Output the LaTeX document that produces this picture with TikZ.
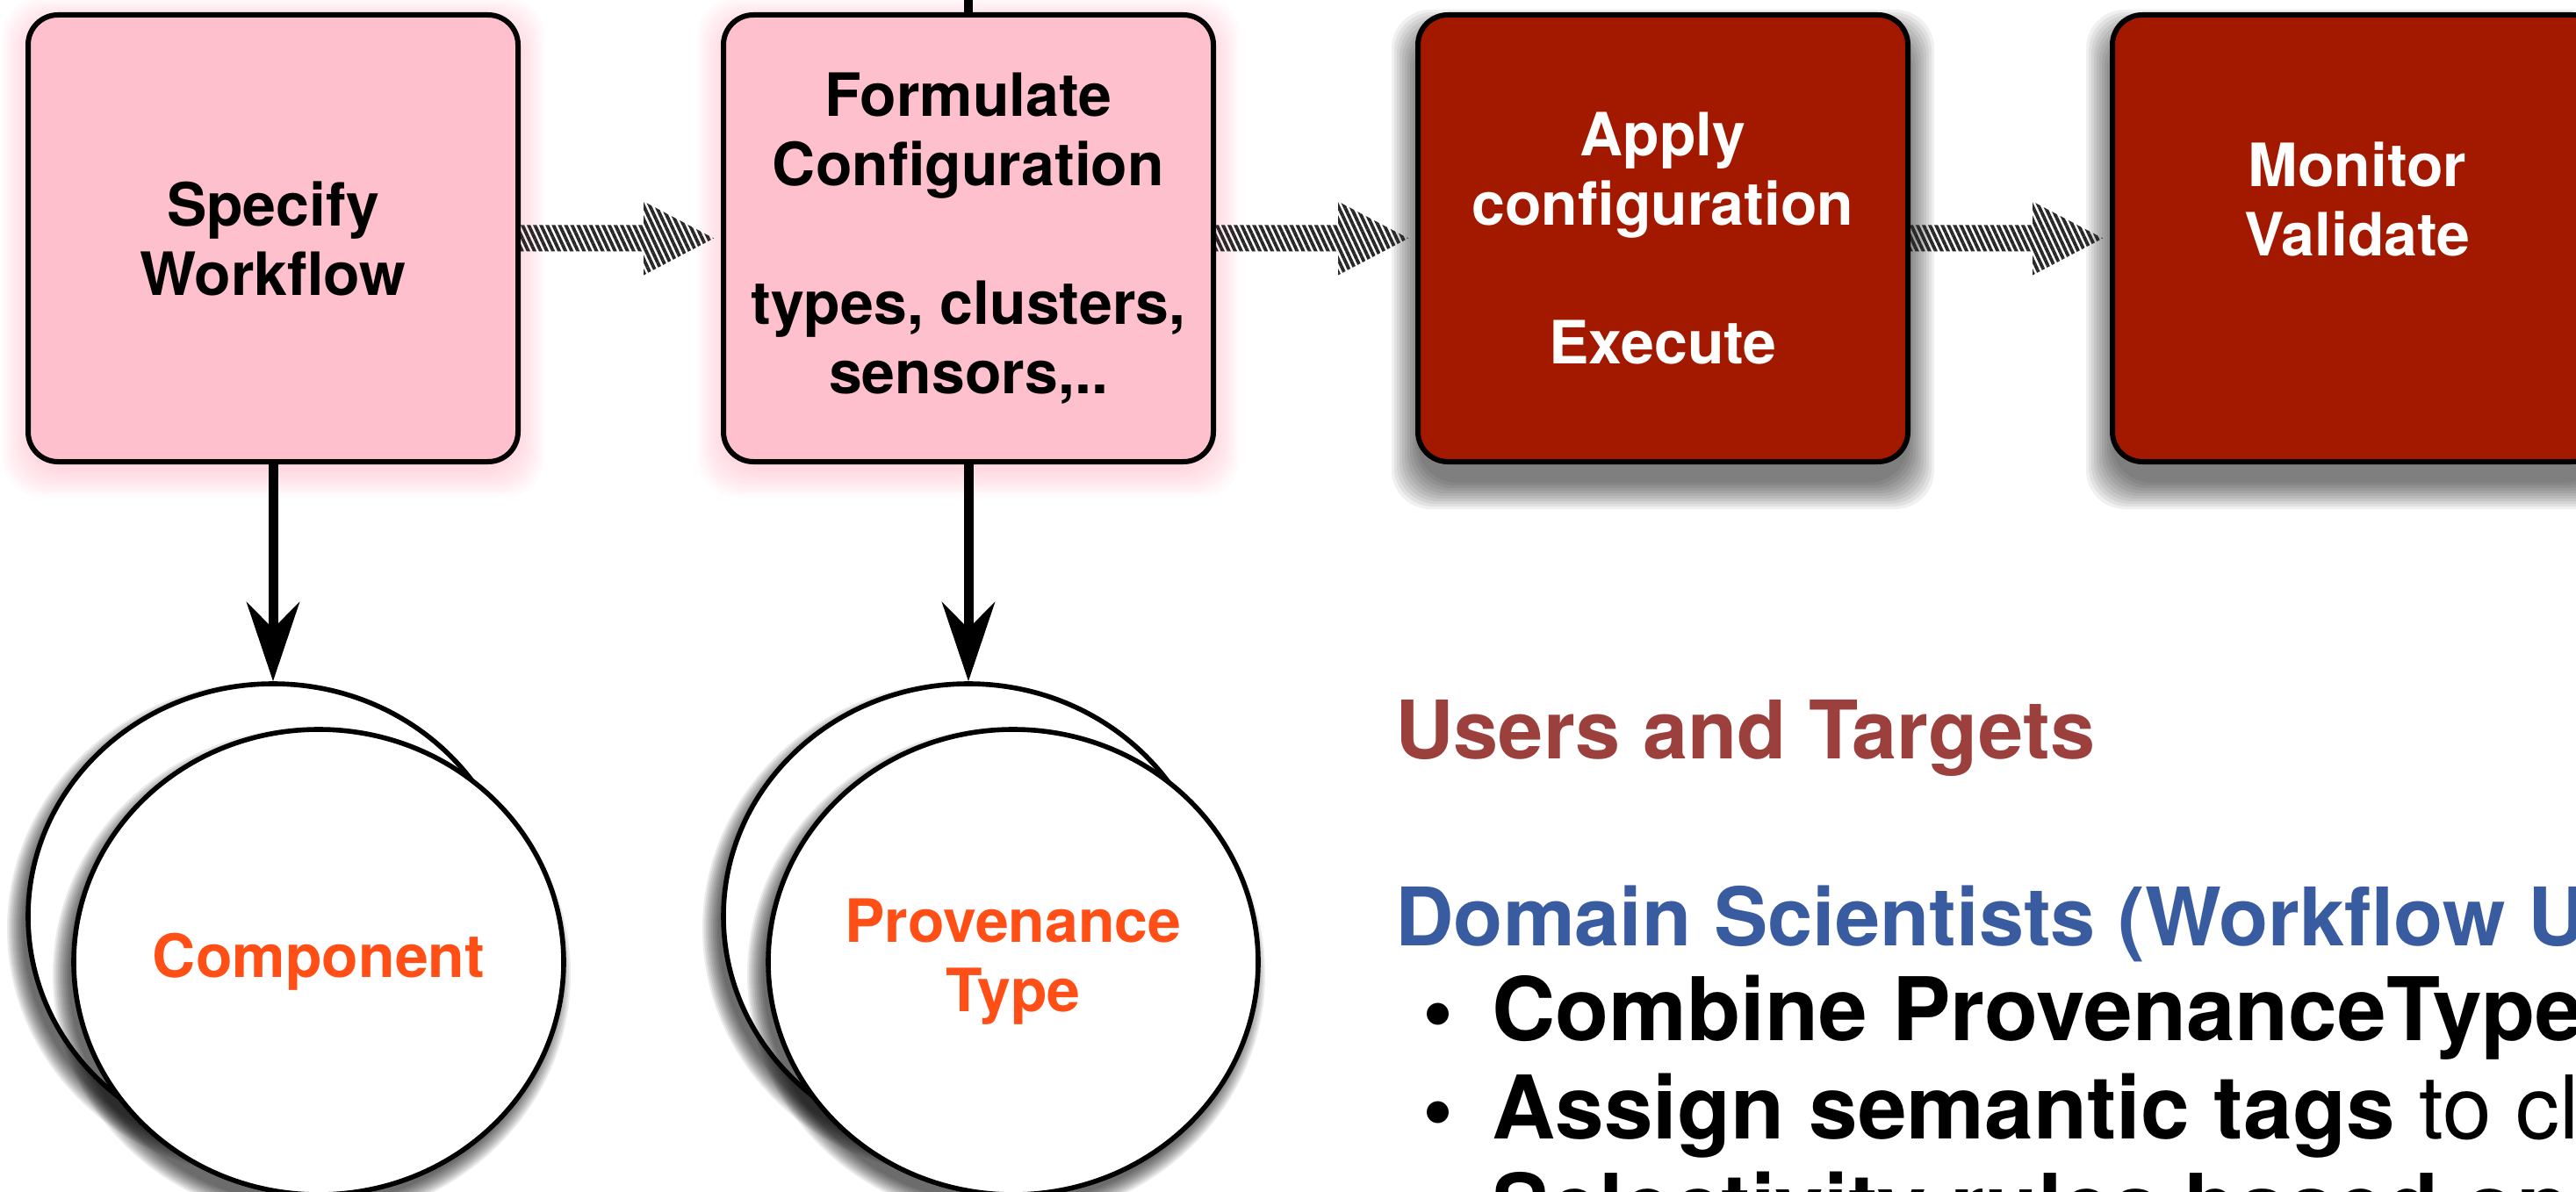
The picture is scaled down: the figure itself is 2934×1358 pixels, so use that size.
\documentclass[tikz,border=0pt]{standalone}
\usepackage{fontspec}
\setmainfont{TeX Gyre Heros}
\usetikzlibrary{shapes.geometric,arrows.meta,patterns.meta,calc}
\definecolor{boxpink}{RGB}{255,192,206}
\definecolor{glowpink}{RGB}{255,150,175}
\definecolor{boxred}{RGB}{162,25,0}
\definecolor{titlered}{RGB}{155,64,60}
\definecolor{titleblue}{RGB}{57,91,160}
\definecolor{ellorange}{RGB}{255,78,22}
\definecolor{hatchgray}{RGB}{40,40,40}
\newcommand\boxshade[5]{%
  \foreach \e in {0,3,...,30}{%
    \fill[#3,opacity=#5,rounded corners=22pt] (#1-279-\e,#2-254.5-\e+#4) rectangle (#1+279+\e,#2+254.5+\e+#4);}}
\newcommand\ellshade[2]{%
  \foreach \e in {0,2,...,18}{%
    \fill[black,opacity=0.08] (#1-8,#2+14) ellipse [x radius=277+\e, y radius=263+\e];}}
\newcommand\hatcharrow[2]{%
  \path[hatch] let \p1=(#1.east), \p2=(#2.west) in
    (\x1,\y1+7.5pt) -- (\x2-44pt,\y1+7.5pt) -- (\x2-44pt,\y1+21pt) -- (\x2-4pt,\y1)
    -- (\x2-44pt,\y1-21pt) -- (\x2-44pt,\y1-7.5pt) -- (\x1,\y1-7.5pt) -- cycle;}
\begin{document}
\begin{tikzpicture}[x=0.5pt,y=-0.5pt,
  boxfont/.style={font=\fontsize{34}{39.5}\selectfont\bfseries},
  pinkbox/.style={draw=black, line width=3pt, fill=boxpink, rounded corners=17pt,
    minimum width=279pt, minimum height=254.5pt, inner sep=0pt, align=center, boxfont},
  redbox/.style={pinkbox, fill=boxred, text=white},
  blob/.style={ellipse, draw=black, line width=2.8pt, fill=white, minimum width=279pt,
    minimum height=265pt, inner sep=0pt, align=center, text=ellorange, boxfont},
  downarrow/.style={line width=5.5pt, line cap=round,
    -{Stealth[length=45pt, width=30pt, inset=15pt]}},
  hatch/.style={pattern={Lines[angle=-65,distance=3.2pt,line width=1.9pt]}, pattern color=hatchgray},
  headline/.style={font=\fontsize{46}{55}\selectfont\bfseries, anchor=base west, inner sep=0pt},
  bul/.style={font=\fontsize{50}{56}\selectfont\bfseries, anchor=base west, inner sep=0pt},
]
\useasboundingbox (0,0) rectangle (2934,1358);
\clip (0,0) rectangle (2934,1358);
\fill[white] (0,0) rectangle (2934,1358);

% shadows of the boxes
\boxshade{311}{271.5}{glowpink}{10}{0.035}
\boxshade{1103}{271.5}{glowpink}{10}{0.035}
\boxshade{1894}{271.5}{black}{24}{0.06}
\boxshade{2685}{271.5}{black}{24}{0.06}

% boxes
\node[pinkbox] (b1) at (311,271.5) {Specify\\Workflow};
\node[pinkbox] (b2) at (1103,271.5) {Formulate\\Configuration\\[39.5pt]types, clusters,\\sensors,..};
\node[redbox] (b3) at (1894,271.5) {Apply\\configuration\\[39.5pt]Execute};
\node[redbox, text depth=45pt] (b4) at (2685,271.5) {Monitor\\Validate};

% hatched arrows
\hatcharrow{b1}{b2}
\hatcharrow{b2}{b3}
\hatcharrow{b3}{b4}

% stub entering box 2 from above
\coordinate (top2) at (1103,-20);
\draw[line width=5pt, line cap=round] (top2) -- (b2.north);

% ellipses
\ellshade{311}{1044}
\node[blob] (c1b) at (311,1044) {};
\ellshade{363}{1096}
\node[blob] (c1) at (363,1096) {Component};
\ellshade{1103}{1044}
\node[blob] (c2b) at (1103,1044) {};
\ellshade{1154}{1096}
\node[blob] (c2) at (1154,1096) {Provenance\\Type};

% vertical arrows
\draw[downarrow] (b1.south) -- (c1b.north);
\draw[downarrow] (b2.south) -- (c2b.north);

% right text
\node[headline, text=titlered] (ut) at (1589,864) {Users and Targets};
\node[headline, text=titleblue] (ds) at (1589,1077) {Domain Scientists (Workflow Users)};
\node[bul] (k1) at (1620,1185) {•};
\node[bul] (l1) at (1699,1185) {Combine ProvenanceTypes};
\node[bul] (k2) at (1620,1297) {•};
\node[bul] (l2) at (1699,1297) {Assign semantic tags {\mdseries to clusters}};
\node[bul] (k3) at (1620,1409) {•};
\node[bul] (l3) at (1699,1409) {Selectivity rules based on};
\end{tikzpicture}
\end{document}
